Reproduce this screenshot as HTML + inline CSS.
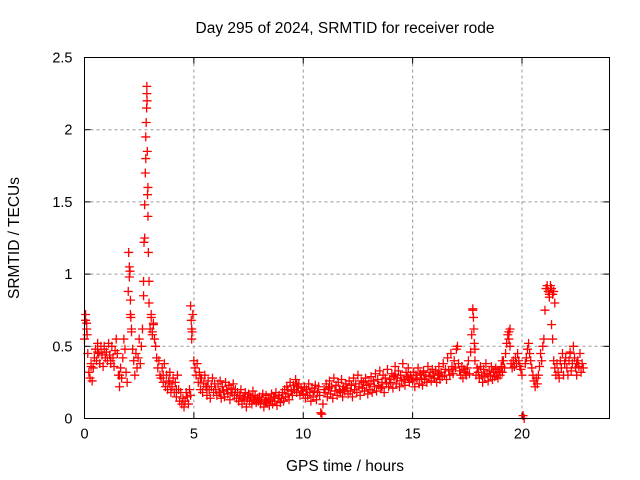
<!DOCTYPE html>
<html><head><meta charset="utf-8"><style>
body{margin:0;background:#fff}
svg{display:block;font-family:"Liberation Sans",sans-serif}
</style></head><body>
<svg id="chart" width="640" height="480" viewBox="0 0 640 480">
<text x="345" y="33" text-anchor="middle" font-size="15.5">Day 295 of 2024, SRMTID for receiver rode</text>
<text x="345" y="471" text-anchor="middle" font-size="15.5">GPS time / hours</text>
<text transform="translate(19,238) rotate(-90)" text-anchor="middle" font-size="15.5">SRMTID / TECUs</text>
<g id="grid"></g><g id="ticks"></g><g id="marks"></g>
<rect x="84.5" y="57.5" width="525" height="361" fill="none" stroke="#000" stroke-width="1"/>
</svg>
<script>
const xTicks=[0,5,10,15,20];
const yTicks=[0,0.5,1,1.5,2,2.5];
const yTickLabels=["0","0.5","1","1.5","2","2.5"];
const startHour=0, sampleStep=0.05;
const srmtid=[
0.55,0.68,0.62,0.45,0.32,0.28,0.38,0.26,0.35,0.42,0.48,0.40,0.52,0.45,0.38,0.50,0.44,0.36,0.48,0.42,
0.46,0.40,0.52,0.44,0.38,0.50,0.42,0.36,0.47,0.55,0.45,0.30,0.22,0.35,0.28,0.42,0.55,0.48,0.32,0.25,
0.88,1.05,0.72,0.60,0.48,0.40,0.30,0.45,0.35,0.42,0.55,0.38,0.50,0.62,0.85,1.25,1.80,2.25,1.60,0.95,
0.62,0.70,0.58,0.65,0.55,0.50,0.42,0.35,0.40,0.30,0.28,0.35,0.25,0.38,0.22,0.30,0.20,0.26,0.32,0.18,
0.22,0.28,0.18,0.25,0.15,0.30,0.20,0.12,0.18,0.10,0.14,0.08,0.12,0.18,0.15,0.10,0.20,0.16,0.62,0.72,
0.40,0.35,0.30,0.38,0.25,0.32,0.20,0.28,0.18,0.24,0.30,0.22,0.16,0.26,0.20,0.14,0.22,0.28,0.18,0.24,
0.20,0.16,0.24,0.18,0.26,0.14,0.22,0.19,0.15,0.25,0.20,0.17,0.23,0.13,0.21,0.18,0.24,0.16,0.20,0.14,
0.18,0.12,0.16,0.20,0.10,0.15,0.13,0.18,0.08,0.14,0.17,0.12,0.15,0.10,0.19,0.13,0.16,0.11,0.14,0.12,
0.15,0.10,0.13,0.17,0.08,0.12,0.16,0.11,0.14,0.09,0.13,0.17,0.10,0.15,0.12,0.18,0.09,0.14,0.16,0.11,
0.14,0.18,0.12,0.20,0.15,0.22,0.17,0.13,0.25,0.19,0.16,0.23,0.20,0.27,0.18,0.22,0.24,0.16,0.21,0.19,
0.17,0.22,0.14,0.20,0.16,0.24,0.18,0.12,0.21,0.15,0.19,0.23,0.13,0.18,0.22,0.16,0.04,0.03,0.10,0.20,
0.18,0.24,0.15,0.21,0.26,0.17,0.22,0.14,0.28,0.19,0.23,0.16,0.25,0.20,0.18,0.27,0.15,0.22,0.19,0.24,
0.21,0.17,0.26,0.19,0.23,0.15,0.28,0.20,0.24,0.18,0.30,0.22,0.16,0.26,0.21,0.25,0.19,0.28,0.23,0.17,
0.24,0.20,0.29,0.18,0.26,0.22,0.31,0.19,0.27,0.23,0.33,0.21,0.25,0.30,0.18,0.28,0.24,0.34,0.22,0.27,
0.25,0.31,0.21,0.29,0.36,0.24,0.28,0.33,0.22,0.30,0.26,0.38,0.27,0.23,0.32,0.29,0.35,0.25,0.30,0.28,
0.26,0.32,0.22,0.30,0.27,0.35,0.24,0.31,0.28,0.23,0.33,0.27,0.30,0.25,0.36,0.29,0.32,0.26,0.34,0.30,
0.28,0.33,0.25,0.31,0.36,0.27,0.32,0.29,0.38,0.30,0.34,0.27,0.42,0.33,0.30,0.45,0.36,0.31,0.40,0.35,
0.48,0.50,0.38,0.33,0.30,0.36,0.28,0.34,0.32,0.30,0.35,0.40,0.31,0.46,0.58,0.75,0.62,0.40,0.30,0.35,
0.32,0.28,0.36,0.30,0.25,0.34,0.29,0.38,0.31,0.26,0.33,0.30,0.36,0.27,0.32,0.29,0.35,0.30,0.28,0.33,
0.30,0.36,0.32,0.40,0.35,0.45,0.52,0.58,0.60,0.50,0.38,0.35,0.40,0.36,0.42,0.38,0.45,0.40,0.36,0.34,
0.30,0.02,0.00,0.38,0.42,0.48,0.52,0.45,0.40,0.35,0.30,0.26,0.22,0.28,0.24,0.30,0.36,0.45,0.40,0.50,
0.55,0.75,0.90,0.92,0.88,0.86,0.90,0.65,0.55,0.40,0.35,0.30,0.38,0.32,0.28,0.40,0.35,0.45,0.30,0.38,
0.42,0.35,0.30,0.40,0.45,0.33,0.38,0.50,0.42,0.35,0.30,0.40,0.36,0.45,0.32,0.38,0.35
];
const extraTimes=[0.05,0.1,0.12,2.02,2.05,2.08,2.1,2.12,2.15,2.7,2.72,2.75,2.78,2.8,2.82,2.84,2.85,2.86,2.87,2.88,2.9,2.92,2.95,3.05,3.1,3.15,4.85,4.88,4.9,4.92,17.75,17.78,17.82,17.85,19.4,19.45,21.25,21.3,21.35,21.4,21.45,21.5,0.3,0.6,0.9,1.2,1.6,3.6,3.9,4.2,5.3,5.6,6.2,6.7,7.3,7.7,8.3,8.7,9.3,9.7,11.2,11.8,12.4,13.1,13.6,14.2,14.8,15.5,16.2,16.8,18.3,18.8,19.1,22.2,22.5];
const extraValues=[0.72,0.66,0.58,1.15,0.98,1.02,0.82,0.70,0.62,0.95,1.22,1.48,1.70,1.95,2.05,2.15,2.30,2.20,1.85,1.55,1.40,1.15,0.80,0.72,0.60,0.66,0.78,0.68,0.55,0.60,0.76,0.70,0.52,0.48,0.55,0.62,0.84,0.92,0.90,0.86,0.88,0.80,0.36,0.46,0.50,0.40,0.30,0.30,0.24,0.20,0.28,0.22,0.18,0.20,0.14,0.16,0.12,0.14,0.20,0.24,0.22,0.20,0.24,0.26,0.22,0.30,0.28,0.32,0.30,0.34,0.30,0.34,0.40,0.46,0.38];
const NS="http://www.w3.org/2000/svg";
const L=84.5,R=609.5,T=57.5,B=418.5,XMAX=24,YMAX=2.5;
function xs(v){return L+(R-L)*v/XMAX;}
function ys(v){return B-(B-T)*v/YMAX;}
const grid=document.getElementById('grid'),ticks=document.getElementById('ticks'),marks=document.getElementById('marks');
function mk(tag,attrs,parent){const e=document.createElementNS(NS,tag);for(const k in attrs)e.setAttribute(k,attrs[k]);parent.appendChild(e);return e;}
xTicks.forEach(v=>{
 const x=xs(v);
 if(v>0){const g=mk('line',{x1:x,y1:T,x2:x,y2:B,stroke:'#999','stroke-dasharray':'3,3'},grid);
 
 }
 const t=mk('text',{x:x,y:B+20,'text-anchor':'middle','font-size':14.5},ticks);t.textContent=v;
 
 
 mk('line',{x1:x,y1:B,x2:x,y2:B-6,stroke:'#000'},ticks);
 mk('line',{x1:x,y1:T,x2:x,y2:T+6,stroke:'#000'},ticks);
});
yTicks.forEach((v,i)=>{
 const y=ys(v);
 if(v>0&&v<YMAX){const g=mk('line',{x1:L,y1:y,x2:R,y2:y,stroke:'#999','stroke-dasharray':'3,3'},grid);
 
 }
 const t=mk('text',{x:L-12,y:y+5,'text-anchor':'end','font-size':14.5},ticks);t.textContent=yTickLabels[i];
 
 
 mk('line',{x1:L,y1:y,x2:L+6,y2:y,stroke:'#000'},ticks);
 mk('line',{x1:R,y1:y,x2:R-6,y2:y,stroke:'#000'},ticks);
});
let d='';
function plus(t,v){const x=xs(t),y=ys(v);d+=`M${x-4.5},${y}h9M${x},${y-4.5}v9`;}
srmtid.forEach((v,i)=>plus(startHour+i*sampleStep,v));
extraTimes.forEach((t,i)=>plus(t,extraValues[i]));
const p=mk('path',{d:d,stroke:'#f00','stroke-width':1.3,fill:'none'},marks);


</script>
</body></html>
